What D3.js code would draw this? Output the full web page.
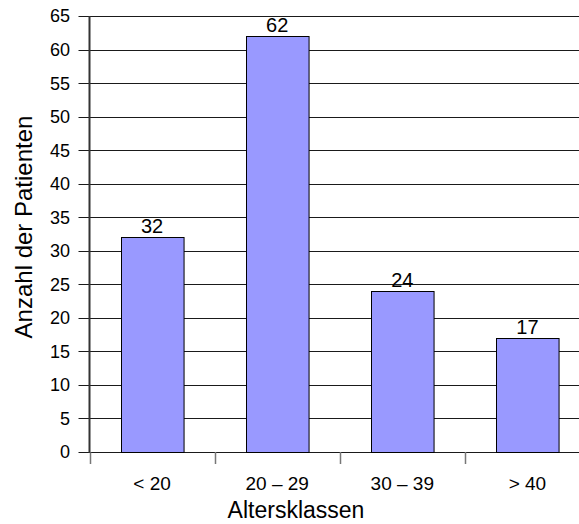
<!DOCTYPE html>
<html><head><meta charset="utf-8">
<script src="https://cdn.jsdelivr.net/npm/d3@7"></script>
<style>body{margin:0;background:#fff}svg{display:block}text{font-family:"Liberation Sans",Arial,sans-serif;fill:#000}</style>
</head><body><svg id="c" width="579" height="524"></svg>
<script>
const categories = ["< 20", "20 – 29", "30 – 39", "> 40"];
const values = [32, 62, 24, 17];
const yTicks = [0,5,10,15,20,25,30,35,40,45,50,55,60,65];
const xTitle = "Altersklassen";
const yTitle = "Anzahl der Patienten";

(function () {
const svg = d3.select("#c");
const pLeft = 89.5, pRight = 590, pTop = 16, pBottom = 452;
const x = d3.scaleBand().domain(categories).range([pLeft, pRight]).paddingInner(0.5).paddingOuter(0.25);
const y = d3.scaleLinear().domain([0, 65]).range([pBottom, pTop]);

svg.append("g").selectAll("line").data(yTicks).join("line")
  .attr("x1", pLeft - 11).attr("x2", 579)
  .attr("y1", d => Math.round(y(d)) + 0.5).attr("y2", d => Math.round(y(d)) + 0.5)
  .attr("stroke", "#1a1a1a").attr("stroke-width", 1);

svg.append("g").selectAll("text").data(yTicks).join("text")
  .attr("x", 70).attr("y", d => y(d)).attr("dy", "0.36em")
  .attr("text-anchor", "end").attr("font-size", 18).text(d => d);

const step = x.step();
const bounds = categories.map((c, i) => pLeft + i * step);
svg.append("g").selectAll("line").data(bounds).join("line")
  .attr("x1", d => Math.round(d) + 0.5).attr("x2", d => Math.round(d) + 0.5)
  .attr("y1", pBottom).attr("y2", pBottom + 12)
  .attr("stroke", "#777").attr("stroke-width", 1.5);

svg.append("g").selectAll("rect").data(values).join("rect")
  .attr("x", (d, i) => Math.round(x(categories[i])) + 0.5)
  .attr("y", d => Math.round(y(d)) + 0.5)
  .attr("width", x.bandwidth())
  .attr("height", d => Math.round(y(0)) - Math.round(y(d)))
  .attr("fill", "#9999ff").attr("stroke", "#000").attr("stroke-width", 1);

svg.append("g").selectAll("text").data(values).join("text")
  .attr("x", (d, i) => x(categories[i]) + x.bandwidth() / 2)
  .attr("y", d => y(d) - 4)
  .attr("text-anchor", "middle").attr("font-size", 20).text(d => d);

svg.append("line").attr("x1", pLeft).attr("x2", pLeft).attr("y1", pTop).attr("y2", pBottom + 1)
  .attr("stroke", "#333").attr("stroke-width", 2);

svg.append("g").selectAll("text").data(categories).join("text")
  .attr("x", d => x(d) + x.bandwidth() / 2).attr("y", 490)
  .attr("text-anchor", "middle").attr("font-size", 19).text(d => d);

svg.append("text").attr("x", 296).attr("y", 518).attr("text-anchor", "middle")
  .attr("font-size", 23).text(xTitle);
svg.append("text").attr("transform", "translate(32,227) rotate(-90)").attr("text-anchor", "middle")
  .attr("font-size", 24).text(yTitle);
})();
</script></body></html>
